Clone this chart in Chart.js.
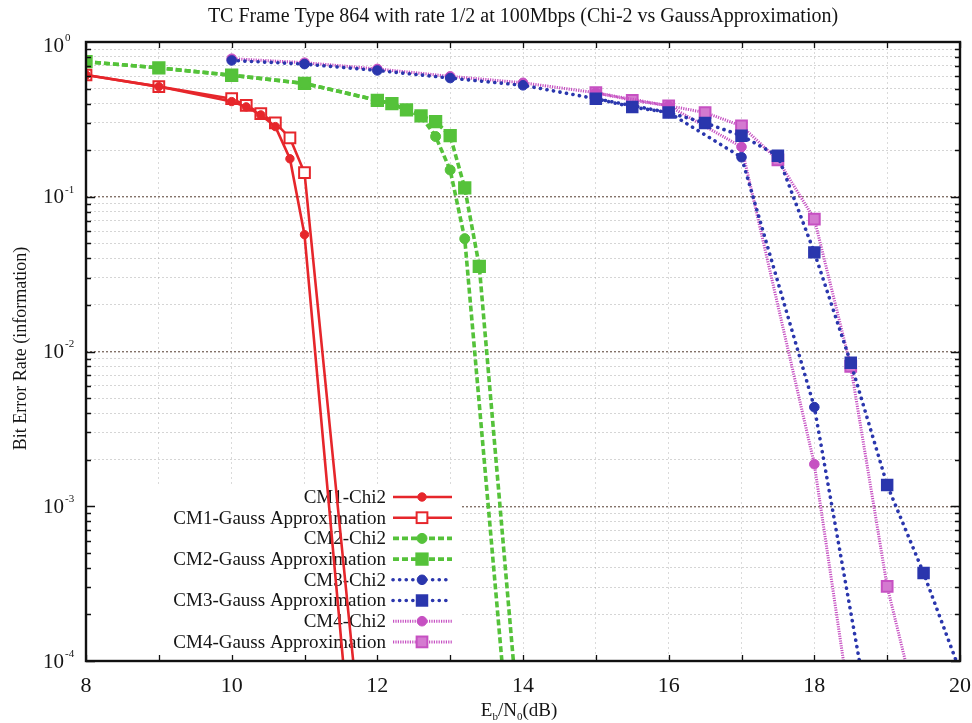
<!DOCTYPE html>
<html>
<head>
<meta charset="utf-8">
<title>TC Frame Type 864 BER</title>
<script src="https://cdn.jsdelivr.net/npm/chart.js@4/dist/chart.umd.min.js"></script>
<style>
  html, body { margin: 0; padding: 0; background: #ffffff; }
  #wrap { width: 972px; height: 723px; position: relative; }
</style>
</head>
<body>
<div id="wrap"><canvas id="ber"></canvas></div>
<script>
// Eb/N0 (dB) sample points and bit error rates per channel model
const cm1X = [8, 9, 10, 10.2, 10.4, 10.6, 10.8, 11.0];
const cm1ChiX = [...cm1X, 11.6];
const cm1Chi = [0.612, 0.515, 0.412, 0.381, 0.338, 0.284, 0.176, 0.0569, 4.3e-5];
const cm1GaussX = [...cm1X, 11.8];
const cm1Gauss = [0.612, 0.515, 0.43, 0.39, 0.345, 0.30, 0.24, 0.143, 2.4e-5];

const cm2X = [8, 9, 10, 11, 12, 12.2, 12.4, 12.6, 12.8, 13.0, 13.2];
const cm2ChiX = [...cm2X, 13.8];
const cm2Chi = [0.746, 0.68, 0.61, 0.54, 0.42, 0.40, 0.364, 0.333, 0.245, 0.149, 0.0536, 3.3e-5];
const cm2GaussX = [...cm2X, 13.4, 14.0];
const cm2Gauss = [0.746, 0.68, 0.61, 0.54, 0.42, 0.40, 0.364, 0.333, 0.306, 0.248, 0.114, 0.0355, 1.9e-5];

const cm3ChiX = [10, 11, 12, 13, 14, 15, 16, 17, 18, 19];
const cm3Chi = [0.76, 0.72, 0.655, 0.585, 0.525, 0.43, 0.35, 0.18, 0.00437, 9.8e-6];
const cm3GaussX = [15, 15.5, 16, 16.5, 17, 17.5, 18, 18.5, 19, 19.5, 20];
const cm3Gauss = [0.43, 0.38, 0.35, 0.30, 0.248, 0.184, 0.0437, 0.00845, 0.00137, 3.7e-4, 8.6e-5];

const cm4ChiX = [10, 11, 12, 13, 14, 15, 16, 17, 18, 18.5];
const cm4Chi = [0.78, 0.735, 0.67, 0.60, 0.545, 0.47, 0.387, 0.21, 0.00187, 4.8e-5];
const cm4GaussX = [15, 15.5, 16, 16.5, 17, 17.5, 18, 18.5, 19, 19.5];
const cm4Gauss = [0.47, 0.42, 0.387, 0.35, 0.287, 0.173, 0.0718, 0.0080, 3.03e-4, 3.3e-5];

const seriesNames = [
  'CM1-Chi2', 'CM1-Gauss Approximation',
  'CM2-Chi2', 'CM2-Gauss Approximation',
  'CM3-Chi2', 'CM3-Gauss Approximation',
  'CM4-Chi2', 'CM4-Gauss Approximation'
];

// axis tick labels
const xTickLabels = ['8', '10', '12', '14', '16', '18', '20'];
const yTickValues = [1, 0.1, 0.01, 0.001, 0.0001];
const yTickExponents = ['0', '-1', '-2', '-3', '-4'];

const titleText = 'TC Frame Type 864 with rate 1/2 at 100Mbps (Chi-2 vs GaussApproximation)';
const yTitleText = 'Bit Error Rate (information)';

const SERIF = '"Liberation Serif", "Times New Roman", serif';
const RED = '#e6262b', GREEN = '#55c23a', BLUE = '#2a36ad', MAGENTA = '#c650c2';

function pts(xs, ys) { return xs.map((x, i) => ({ x: x, y: ys[i] })); }

const styles = [
  { color: RED, dash: [], width: 2.6, cap: 'butt', point: 'circle', radius: 4.2, fill: RED },
  { color: RED, dash: [], width: 2.6, cap: 'butt', point: 'rect', radius: 7.6, fill: '#ffffff' },
  { color: GREEN, dash: [6, 3], width: 3.6, cap: 'butt', point: 'circle', radius: 5, fill: GREEN },
  { color: GREEN, dash: [6, 3], width: 3.6, cap: 'butt', point: 'rect', radius: 8, fill: GREEN },
  { color: BLUE, dash: [0.1, 6.5], width: 3.6, cap: 'round', point: 'circle', radius: 4.8, fill: BLUE },
  { color: BLUE, dash: [0.1, 6.5], width: 3.6, cap: 'round', point: 'rect', radius: 7.4, fill: BLUE },
  { color: MAGENTA, dash: [1.2, 1.2], width: 3, cap: 'butt', point: 'circle', radius: 4.8, fill: MAGENTA },
  { color: MAGENTA, dash: [1.2, 1.2], width: 3, cap: 'butt', point: 'rect', radius: 7.6, fill: '#d47ad0' }
];

const seriesData = [
  pts(cm1ChiX, cm1Chi), pts(cm1GaussX, cm1Gauss),
  pts(cm2ChiX, cm2Chi), pts(cm2GaussX, cm2Gauss),
  pts(cm3ChiX, cm3Chi), pts(cm3GaussX, cm3Gauss),
  pts(cm4ChiX, cm4Chi), pts(cm4GaussX, cm4Gauss)
];

const datasets = seriesNames.map((name, i) => {
  const s = styles[i];
  return {
    label: name,
    data: seriesData[i],
    borderColor: s.color,
    borderWidth: s.width,
    borderDash: s.dash,
    borderCapStyle: s.cap,
    pointStyle: s.point,
    pointRadius: s.radius,
    pointBackgroundColor: s.fill,
    pointBorderColor: s.color,
    pointBorderWidth: s.point === 'rect' ? 2 : 1,
    tension: 0,
    fill: false,
    clip: 0
  };
});

// legend box, frame, inward ticks and custom axis text
const decorations = {
  id: 'decorations',
  beforeDatasetsDraw(chart) {
    const ctx = chart.ctx;
    const area = chart.chartArea;
    ctx.save();
    ctx.fillStyle = '#ffffff';
    ctx.fillRect(area.left, 484, 460 - area.left, area.bottom - 484);
    const rowTop = 497, rowH = 20.7;
    chart.data.datasets.forEach((ds, i) => {
      const y = rowTop + i * rowH;
      ctx.font = '19px ' + SERIF;
      ctx.fillStyle = '#151515';
      ctx.textAlign = 'right';
      ctx.textBaseline = 'middle';
      ctx.fillText(ds.label, 386, y + 1);
      ctx.save();
      ctx.strokeStyle = ds.borderColor;
      ctx.lineWidth = ds.borderWidth;
      ctx.setLineDash(ds.borderDash);
      ctx.lineCap = ds.borderCapStyle;
      ctx.beginPath();
      ctx.moveTo(393, y);
      ctx.lineTo(452, y);
      ctx.stroke();
      ctx.restore();
      ctx.fillStyle = ds.pointBackgroundColor;
      ctx.strokeStyle = ds.pointBorderColor;
      ctx.lineWidth = ds.pointBorderWidth;
      if (ds.pointStyle === 'circle') {
        ctx.beginPath();
        ctx.arc(422, y, ds.pointRadius, 0, Math.PI * 2);
        ctx.fill();
        ctx.stroke();
      } else {
        const h = ds.pointRadius * Math.SQRT1_2;
        ctx.fillRect(422 - h, y - h, 2 * h, 2 * h);
        ctx.strokeRect(422 - h, y - h, 2 * h, 2 * h);
      }
    });
    ctx.restore();
  },
  afterDatasetsDraw(chart) {
    const ctx = chart.ctx;
    const a = chart.chartArea;
    const xs = chart.scales.x, ys = chart.scales.y;
    ctx.save();
    ctx.strokeStyle = '#111111';
    ctx.lineWidth = 1.3;
    ctx.beginPath();
    for (let v = 8; v <= 20; v += 1) {
      const px = Math.round(xs.getPixelForValue(v)) + 0.5;
      const len = 6;
      ctx.moveTo(px, a.bottom); ctx.lineTo(px, a.bottom - len);
      ctx.moveTo(px, a.top); ctx.lineTo(px, a.top + len);
    }
    for (let k = -4; k <= -1; k++) {
      for (let m = 1; m <= 9; m++) {
        const py = Math.round(ys.getPixelForValue(m * Math.pow(10, k))) + 0.5;
        const len = m === 1 ? 9 : 5;
        ctx.moveTo(a.left, py); ctx.lineTo(a.left + len, py);
        ctx.moveTo(a.right, py); ctx.lineTo(a.right - len, py);
      }
    }
    ctx.stroke();
    ctx.lineWidth = 2.4;
    ctx.strokeRect(a.left, a.top, a.right - a.left, a.bottom - a.top);
    ctx.restore();
  },
  afterDraw(chart) {
    const ctx = chart.ctx;
    const a = chart.chartArea;
    const ys = chart.scales.y;
    ctx.save();
    ctx.fillStyle = '#151515';
    // chart title, centred over the plot
    ctx.font = '20px ' + SERIF;
    ctx.textAlign = 'center';
    ctx.textBaseline = 'middle';
    ctx.fillText(titleText, (a.left + a.right) / 2, 17);
    // y tick labels: 10 with a raised exponent
    yTickValues.forEach((v, i) => {
      const py = ys.getPixelForValue(v) + (i === 0 ? 4 : 1);
      ctx.font = '21px ' + SERIF;
      ctx.textAlign = 'right';
      ctx.textBaseline = 'middle';
      ctx.fillText('10', 64, py);
      ctx.font = '11px ' + SERIF;
      ctx.textAlign = 'left';
      ctx.fillText(yTickExponents[i], 65, py - 8);
    });
    // y axis title
    ctx.save();
    ctx.translate(21, (a.top + a.bottom) / 2 - 3);
    ctx.rotate(-Math.PI / 2);
    ctx.font = '18px ' + SERIF;
    ctx.textAlign = 'center';
    ctx.textBaseline = 'middle';
    ctx.fillText(yTitleText, 0, 0);
    ctx.restore();
    // x axis title: E_b/N_0(dB)
    const parts = [
      { t: 'E', size: 19, dy: 0 }, { t: 'b', size: 11, dy: 4 },
      { t: '/N', size: 19, dy: 0 }, { t: '0', size: 11, dy: 4 },
      { t: '(dB)', size: 19, dy: 0 }
    ];
    let total = 0;
    parts.forEach(p => { ctx.font = p.size + 'px ' + SERIF; p.w = ctx.measureText(p.t).width; total += p.w; });
    let x = (a.left + a.right) / 2 - total / 2 - 4;
    ctx.textAlign = 'left';
    ctx.textBaseline = 'alphabetic';
    parts.forEach(p => {
      ctx.font = p.size + 'px ' + SERIF;
      ctx.fillText(p.t, x, 716 + p.dy);
      x += p.w;
    });
    ctx.restore();
  }
};

new Chart(document.getElementById('ber'), {
  type: 'line',
  data: { datasets: datasets },
  plugins: [decorations],
  options: {
    responsive: true,
    maintainAspectRatio: false,
    animation: false,
    layout: { padding: { left: 0, right: 12, top: 42, bottom: 0 } },
    plugins: {
      legend: { display: false },
      tooltip: { enabled: false },
      title: { display: false }
    },
    scales: {
      x: {
        type: 'linear',
        min: 8,
        max: 20,
        afterFit(scale) {
          scale.height = 62;
          scale.paddingLeft = 0;
          scale.paddingRight = 0;
        },
        afterBuildTicks(scale) {
          const t = [];
          for (let v = 8; v <= 20; v++) t.push({ value: v });
          scale.ticks = t;
        },
        ticks: {
          autoSkip: false,
          maxRotation: 0,
          padding: 12,
          color: '#151515',
          font: { family: SERIF, size: 22 },
          callback(v) { return xTickLabels.includes(String(v)) ? String(v) : ''; }
        },
        grid: { color: 'rgba(150,150,150,0.35)', lineWidth: 1, drawTicks: false },
        border: { display: false, dash: [2, 3] }
      },
      y: {
        type: 'logarithmic',
        min: 1e-4,
        max: 1,
        afterFit(scale) {
          scale.width = 86;
          scale.paddingTop = 0;
          scale.paddingBottom = 0;
        },
        afterBuildTicks(scale) {
          const t = [];
          for (let k = -4; k <= -1; k++) {
            for (let m = 1; m <= 9; m++) t.push({ value: m * Math.pow(10, k) });
          }
          t.push({ value: 1 });
          scale.ticks = t;
        },
        ticks: { display: false },
        grid: {
          drawTicks: false,
          lineWidth(ctx) {
            const v = ctx.tick ? ctx.tick.value : 0;
            const e = Math.log10(v);
            return Math.abs(e - Math.round(e)) < 1e-9 ? 1.4 : 1;
          },
          color(ctx) {
            const v = ctx.tick ? ctx.tick.value : 0;
            const e = Math.log10(v);
            return Math.abs(e - Math.round(e)) < 1e-9 ? 'rgba(110,90,80,0.85)' : 'rgba(150,150,150,0.4)';
          }
        },
        border: { display: false, dash: [2, 2] }
      }
    }
  }
});
</script>
</body>
</html>
